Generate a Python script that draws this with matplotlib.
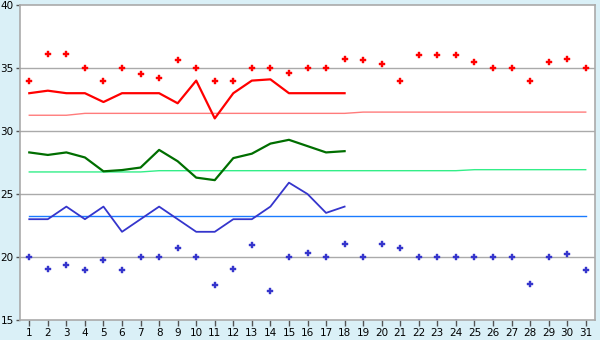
import matplotlib
matplotlib.use("Agg")
import matplotlib.pyplot as plt

days = list(range(1, 32))

red_points = [34.0, 36.1, 36.1, 35.0, 34.0, 35.0, 34.5, 34.2, 35.6, 35.0,
              34.0, 34.0, 35.0, 35.0, 34.6, 35.0, 35.0, 35.7, 35.6, 35.3,
              34.0, 36.0, 36.0, 36.0, 35.5, 35.0, 35.0, 34.0, 35.5, 35.7, 35.0]
red_line = [33.0, 33.2, 33.0, 33.0, 32.3, 33.0, 33.0, 33.0, 32.2, 34.0,
            31.0, 33.0, 34.0, 34.1, 33.0, 33.0, 33.0, 33.0]
red_avg = [31.25]*3 + [31.4]*15 + [31.5]*13

green_line = [28.3, 28.1, 28.3, 27.9, 26.8, 26.9, 27.1, 28.5, 27.6, 26.3,
              26.1, 27.85, 28.2, 29.0, 29.3, 28.8, 28.3, 28.4]
green_avg = [26.75]*7 + [26.85]*17 + [26.93]*7

blue_points = [20.0, 19.05, 19.4, 18.95, 19.8, 18.95, 20.0, 20.0, 20.7, 20.0,
               17.8, 19.05, 20.95, 17.3, 20.0, 20.3, 20.0, 21.0, 20.0, 21.0,
               20.7, 20.0, 20.0, 20.0, 20.0, 20.0, 20.0, 17.85, 20.0, 20.25, 18.95]
blue_line = [23.0, 23.0, 24.0, 23.0, 24.0, 22.0, 23.0, 24.0, 23.0, 22.0,
             22.0, 23.0, 23.0, 24.0, 25.9, 25.0, 23.5, 24.0]
blue_avg = [23.25]*31

y_ticks = [15, 20, 25, 30, 35, 40]

fig = plt.figure(figsize=(6, 3.4), dpi=100)
fig.patch.set_facecolor('#DAF0F7')
ax = fig.add_axes([20/600, 1-320/340, 575/600, 315/340])
ax.set_facecolor('white')

for y in [20, 25, 30, 35]:
    ax.axhline(y, color='#AAAAAA', lw=1.0, zorder=1)

ax.plot(days, red_avg, color='#FF7B7B', lw=1.0, zorder=2)
ax.plot(days, green_avg, color='#33EE88', lw=1.0, zorder=2)
ax.plot(days, blue_avg, color='#1A7BFF', lw=1.0, zorder=2)

ax.plot(days[:18], red_line, color='#FF0000', lw=1.6, zorder=3)
ax.plot(days[:18], green_line, color='#006E00', lw=1.6, zorder=3)
ax.plot(days[:18], blue_line, color='#3535CC', lw=1.3, zorder=3)

ax.plot(days, red_points, linestyle='none', marker='P', ms=4,
        color='#FF0000', mec='#FF0000', mew=0.3, zorder=4)
ax.plot(days, blue_points, linestyle='none', marker='P', ms=4,
        color='#3535CC', mec='#3535CC', mew=0.3, zorder=4)

ax.set_xlim(0.5, 31.5)
ax.set_ylim(15, 40)
ax.set_xticks(days)
ax.set_yticks(y_ticks)
ax.tick_params(axis='both', colors='#555555', labelcolor='black',
               labelsize=7.5, length=3, width=1, pad=1.5)
ax.tick_params(axis='x', length=4, pad=2)
for s in ax.spines.values():
    s.set_color('#AAAAAA')
    s.set_linewidth(1.2)

fig.savefig('out.png', dpi=100, facecolor=fig.get_facecolor())
